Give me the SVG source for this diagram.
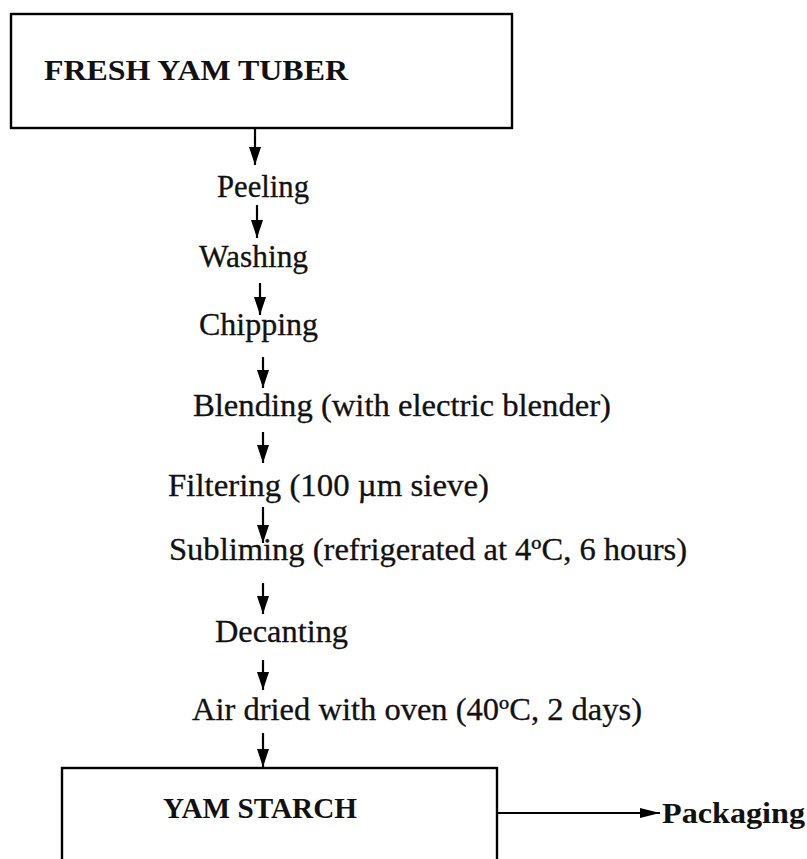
<svg xmlns="http://www.w3.org/2000/svg" width="807" height="859" viewBox="0 0 807 859">
<defs>
<marker id="ah" markerUnits="userSpaceOnUse" markerWidth="18" markerHeight="12" refX="18" refY="6" orient="auto">
<path d="M0,0 L18,6 L0,12 z" fill="#000"/>
</marker>
<marker id="ahh" markerUnits="userSpaceOnUse" markerWidth="20" markerHeight="10" refX="20" refY="5" orient="auto">
<path d="M0,0 L20,5 L0,10 z" fill="#000"/>
</marker>
</defs>
<style>
.box{fill:#fff;stroke:#000;stroke-width:2.4}
.t{font-family:"Liberation Serif","Times New Roman",serif;font-size:31px;fill:#111;stroke:#111;stroke-width:0.3}
.b{font-family:"Liberation Serif","Times New Roman",serif;font-size:30px;font-weight:bold;fill:#111}
.c{stroke:#000;stroke-width:2.2;fill:none}
</style>
<rect width="807" height="859" fill="#fff"/>
<g id="node-fresh">
<rect class="box" x="11" y="14" width="501" height="114"/>
<text class="b" x="44" y="80" textLength="304" lengthAdjust="spacingAndGlyphs">FRESH YAM TUBER</text>
</g>
<g id="node-peeling"><text class="t" x="217" y="197" textLength="92" lengthAdjust="spacingAndGlyphs">Peeling</text></g>
<g id="node-washing"><text class="t" x="199" y="267" textLength="109" lengthAdjust="spacingAndGlyphs">Washing</text></g>
<g id="node-chipping"><text class="t" x="199" y="335" textLength="119" lengthAdjust="spacingAndGlyphs">Chipping</text></g>
<g id="node-blending"><text class="t" x="193" y="416" textLength="418" lengthAdjust="spacingAndGlyphs">Blending (with electric blender)</text></g>
<g id="node-filtering"><text class="t" x="168" y="496" textLength="321" lengthAdjust="spacingAndGlyphs">Filtering (100 µm sieve)</text></g>
<g id="node-subliming"><text class="t" x="169" y="560" textLength="518" lengthAdjust="spacingAndGlyphs">Subliming (refrigerated at 4ºC, 6 hours)</text></g>
<g id="node-decanting"><text class="t" x="215" y="642" textLength="133" lengthAdjust="spacingAndGlyphs">Decanting</text></g>
<g id="node-drying"><text class="t" x="192" y="720" textLength="450" lengthAdjust="spacingAndGlyphs">Air dried with oven (40ºC, 2 days)</text></g>
<g id="node-starch">
<rect class="box" x="62" y="768" width="435" height="120"/>
<text class="b" x="163" y="818" textLength="194" lengthAdjust="spacingAndGlyphs">YAM STARCH</text>
</g>
<g id="node-packaging"><text class="b" x="662" y="823" textLength="143" lengthAdjust="spacingAndGlyphs">Packaging</text></g>
<g id="connectors">
<line class="c" x1="255" y1="129" x2="255" y2="165" marker-end="url(#ah)"/>
<line class="c" x1="257" y1="205" x2="257" y2="238" marker-end="url(#ah)"/>
<line class="c" x1="260" y1="283" x2="260" y2="315" marker-end="url(#ah)"/>
<line class="c" x1="263" y1="357" x2="263" y2="388" marker-end="url(#ah)"/>
<line class="c" x1="263" y1="432" x2="263" y2="463" marker-end="url(#ah)"/>
<line class="c" x1="263" y1="507" x2="263" y2="543" marker-end="url(#ah)"/>
<line class="c" x1="263" y1="583" x2="263" y2="614" marker-end="url(#ah)"/>
<line class="c" x1="263" y1="660" x2="263" y2="690" marker-end="url(#ah)"/>
<line class="c" x1="263" y1="733" x2="263" y2="767" marker-end="url(#ah)"/>
<line class="c" x1="497" y1="813" x2="660" y2="813" marker-end="url(#ahh)"/>
</g>
</svg>
